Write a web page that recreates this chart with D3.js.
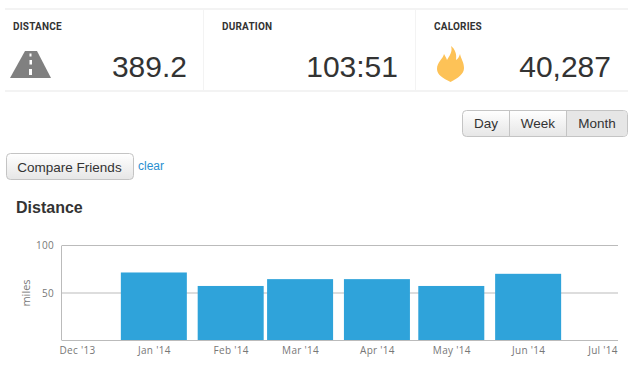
<!DOCTYPE html>
<html>
<head>
<meta charset="utf-8">
<script src="https://cdn.jsdelivr.net/npm/d3@7"></script>
<style>
  html, body { margin: 0; padding: 0; background: #fff; }
  svg { display: block; }
  text { font-family: "Liberation Sans", Arial, sans-serif; }
</style>
</head>
<body>
<svg id="chart" width="640" height="372"></svg>
<script>
const months = ['2014-01-01', '2014-02-01', '2014-03-01', '2014-04-01', '2014-05-01', '2014-06-01'];
const distance = [71.6, 57.4, 64.6, 64.6, 57.4, 70.2];
const tickMonths = ['2013-12-01', '2014-01-01', '2014-02-01', '2014-03-01', '2014-04-01', '2014-05-01', '2014-06-01', '2014-07-01'];
const yTicks = [50, 100];
const statLabels = ['DISTANCE', 'DURATION', 'CALORIES'];
const statValues = ['389.2', '103:51', '40,287'];
const periods = ['Day', 'Week', 'Month'];

const svg = d3.select('#chart');
const parseDay = d3.utcParse('%Y-%m-%d');
const formatMonth = d3.utcFormat("%b '%y");

// stats strip
const statX = [13, 222, 434];
const statRight = [187, 398, 611];

svg.append('g')
  .selectAll('rect')
  .data([[5, 8, 623, 2], [5, 90, 623, 2], [203, 9, 1, 82], [415, 9, 1, 82]])
  .join('rect')
  .attr('x', (d) => d[0])
  .attr('y', (d) => d[1])
  .attr('width', (d) => d[2])
  .attr('height', (d) => d[3])
  .attr('fill', '#f3f3f3');

statLabels.forEach((label, i) => {
  svg.append('text')
    .attr('x', statX[i])
    .attr('y', 30)
    .style('font-family', 'Roboto, sans-serif')
    .attr('font-size', 10)
    .attr('font-weight', 700)
    .attr('letter-spacing', 0.2)
    .attr('fill', '#333')
    .text(label);
  svg.append('text')
    .attr('x', statRight[i])
    .attr('y', 76.5)
    .attr('text-anchor', 'end')
    .attr('font-size', 30)
    .attr('fill', '#333')
    .text(statValues[i]);
});

// road icon
svg.append('path')
  .attr('d', 'M25 51H37L51 78H10Z')
  .attr('fill', '#808080');
svg.append('g')
  .selectAll('rect')
  .data([[29.5, 53.5, 2, 3], [29.5, 60, 2.5, 4.5], [29, 69, 3, 6]])
  .join('rect')
  .attr('x', (d) => d[0])
  .attr('y', (d) => d[1])
  .attr('width', (d) => d[2])
  .attr('height', (d) => d[3])
  .attr('fill', '#fff');

// flame icon
svg.append('path')
  .attr('d', 'M451 46C453 52 449 56 447 60C446 57 445 56 444 54C443 59 437 62 437 69C437 75 443 78 450.5 82C458 78 464 74 464 68C464 62 461 59 460 54C459 57 458 59 456 60C457 54 455 49 451 46Z')
  .attr('fill', '#fdc257');

// buttons
const defs = svg.append('defs');
const grad = defs.append('linearGradient').attr('id', 'btn').attr('x1', 0).attr('x2', 0).attr('y1', 0).attr('y2', 1);
grad.append('stop').attr('offset', '0%').attr('stop-color', '#fff');
grad.append('stop').attr('offset', '100%').attr('stop-color', '#e6e6e6');

svg.append('rect')
  .attr('x', 462.5).attr('y', 110.5).attr('width', 165).attr('height', 26).attr('rx', 4)
  .attr('fill', 'url(#btn)').attr('stroke', '#c4c4c4');
svg.append('path')
  .attr('d', 'M567 111H623.5Q627 111 627 114.5V132.5Q627 136 623.5 136H567Z')
  .attr('fill', '#e6e6e6');
svg.append('g')
  .selectAll('line')
  .data([509.5, 566.5])
  .join('line')
  .attr('x1', (d) => d).attr('x2', (d) => d)
  .attr('y1', 111).attr('y2', 136)
  .attr('stroke', '#c4c4c4');
const periodX = [486, 538, 597];
periods.forEach((p, i) => {
  svg.append('text')
    .attr('x', periodX[i])
    .attr('y', 128)
    .attr('text-anchor', 'middle')
    .attr('font-size', 13.5)
    .attr('fill', '#333')
    .text(p);
});

svg.append('rect')
  .attr('x', 6.5).attr('y', 153.5).attr('width', 127).attr('height', 26).attr('rx', 4)
  .attr('fill', 'url(#btn)').attr('stroke', '#c4c4c4');
svg.append('text')
  .attr('x', 69.5).attr('y', 172).attr('text-anchor', 'middle')
  .attr('font-size', 13.5).attr('fill', '#333').text('Compare Friends');
svg.append('text')
  .attr('x', 138).attr('y', 170)
  .attr('font-size', 12).attr('fill', '#2a8fd0').text('clear');

svg.append('text')
  .attr('x', 16).attr('y', 213)
  .attr('font-size', 16).attr('font-weight', 700).attr('fill', '#333').text('Distance');

// chart
const x = d3.scaleTime()
  .domain([parseDay('2013-12-01'), parseDay('2014-07-01')])
  .range([77, 602.5]);
const y = d3.scaleLinear()
  .domain([0, 100])
  .range([340.5, 245.5]);
const barWidth = 66;
const plotLeft = 62;
const plotRight = 618;

svg.append('g')
  .selectAll('line')
  .data(yTicks)
  .join('line')
  .attr('x1', plotLeft)
  .attr('x2', plotRight)
  .attr('y1', (d) => y(d))
  .attr('y2', (d) => y(d))
  .attr('stroke', '#bbb');

svg.append('line')
  .attr('x1', plotLeft - 0.5).attr('x2', plotLeft - 0.5)
  .attr('y1', y(100)).attr('y2', y(0))
  .attr('stroke', '#bbb');

svg.append('g')
  .selectAll('rect')
  .data(months)
  .join('rect')
  .attr('x', (d) => x(parseDay(d)) - barWidth / 2)
  .attr('y', (d, i) => y(distance[i]))
  .attr('width', barWidth)
  .attr('height', (d, i) => y(0) - y(distance[i]))
  .attr('fill', '#2fa3da');

svg.append('line')
  .attr('x1', plotLeft).attr('x2', plotRight)
  .attr('y1', y(0)).attr('y2', y(0))
  .attr('stroke', '#bbb');

const xAxis = svg.append('g')
  .attr('transform', `translate(0,${y(0)})`)
  .call(d3.axisBottom(x)
    .tickValues(tickMonths.map(parseDay))
    .tickFormat(formatMonth)
    .tickSize(0)
    .tickPadding(6));
xAxis.select('.domain').remove();
xAxis.selectAll('text')
  .style('font-family', '"Open Sans", sans-serif')
  .attr('font-size', 10)
  .attr('letter-spacing', 0.3)
  .attr('fill', '#777');

const yAxis = svg.append('g')
  .attr('transform', `translate(${plotLeft},0)`)
  .call(d3.axisLeft(y).tickValues(yTicks).tickSize(0).tickPadding(8));
yAxis.select('.domain').remove();
yAxis.selectAll('text')
  .style('font-family', '"Open Sans", sans-serif')
  .attr('font-size', 10)
  .attr('letter-spacing', 0.3)
  .attr('fill', '#777');

svg.append('text')
  .attr('transform', 'translate(30,293) rotate(-90)')
  .attr('text-anchor', 'middle')
  .style('font-family', '"Open Sans", sans-serif')
  .attr('font-size', 11)
  .attr('fill', '#777')
  .text('miles');
</script>
</body>
</html>
